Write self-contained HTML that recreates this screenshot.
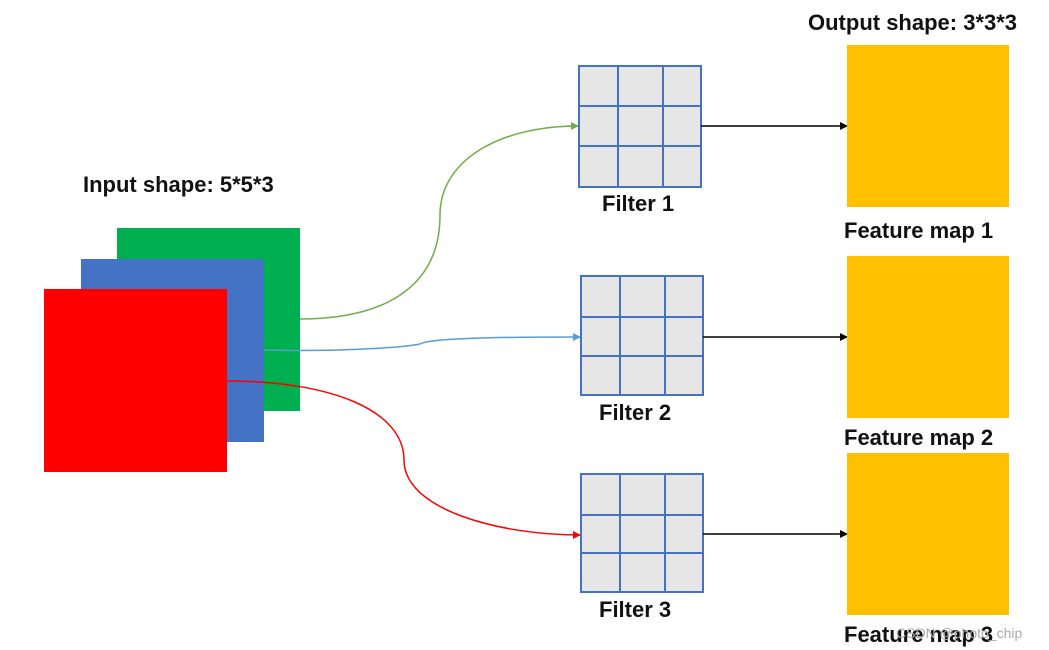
<!DOCTYPE html>
<html><head><style>body{margin:0;background:#fff}svg{display:block}text{font-family:"Liberation Sans",sans-serif;font-weight:bold;fill:#111}</style></head>
<body>
<svg width="1049" height="650" viewBox="0 0 1049 650">
<defs>
<marker id="ag" markerWidth="8" markerHeight="8" refX="7" refY="4" orient="auto" markerUnits="userSpaceOnUse"><path d="M0,0L8,4L0,8z" fill="#70ad47"/></marker>
<marker id="ab" markerWidth="8" markerHeight="8" refX="7" refY="4" orient="auto" markerUnits="userSpaceOnUse"><path d="M0,0L8,4L0,8z" fill="#5b9bd5"/></marker>
<marker id="ar" markerWidth="8" markerHeight="8" refX="7" refY="4" orient="auto" markerUnits="userSpaceOnUse"><path d="M0,0L8,4L0,8z" fill="#ff0000"/></marker>
<marker id="ak" markerWidth="8" markerHeight="8" refX="7" refY="4" orient="auto" markerUnits="userSpaceOnUse"><path d="M0,0L8,4L0,8z" fill="#000"/></marker>
</defs>
<text x="83" y="192" font-size="22">Input shape: 5*5*3</text>
<text x="808" y="30" font-size="22">Output shape: 3*3*3</text>
<rect x="117" y="228" width="183" height="183" fill="#00b050"/>
<rect x="81" y="259" width="183" height="183" fill="#4472c4"/>
<rect x="44" y="289" width="183" height="183" fill="#ff0000"/>
<path d="M300,319 C380,319 440,290 440,215 C440,160 500,126 578,126" fill="none" stroke="#70ad47" stroke-width="1.5" marker-end="url(#ag)"/>
<path d="M264,350 C330,352 400,348 420,344 C430,338 500,337 580,337" fill="none" stroke="#5b9bd5" stroke-width="1.5" marker-end="url(#ab)"/>
<path d="M227,381 C330,381 404,410 404,460 C404,510 500,535 580,535" fill="none" stroke="#ff0000" stroke-width="1.5" marker-end="url(#ar)"/>
<g fill="#e7e6e6" stroke="#4472c4" stroke-width="2">
<rect x="579" y="66" width="122" height="121"/><path d="M618,66V187M663,66V187M579,106H701M579,146H701"/>
<rect x="581" y="276" width="122" height="119"/><path d="M620,276V395M665,276V395M581,317H703M581,356H703"/>
<rect x="581" y="474" width="122" height="118"/><path d="M620,474V592M665,474V592M581,515H703M581,553H703"/>
</g>
<text x="602" y="211" font-size="22">Filter 1</text>
<text x="599" y="420" font-size="22">Filter 2</text>
<text x="599" y="617" font-size="22">Filter 3</text>
<g stroke="#000" stroke-width="1.5" marker-end="url(#ak)">
<line x1="701" y1="126" x2="847" y2="126"/>
<line x1="703" y1="337" x2="847" y2="337"/>
<line x1="703" y1="534" x2="847" y2="534"/>
</g>
<g fill="#ffc000">
<rect x="847" y="45" width="162" height="162"/>
<rect x="847" y="256" width="162" height="162"/>
<rect x="847" y="453" width="162" height="162"/>
</g>
<text x="844" y="238" font-size="22">Feature map 1</text>
<text x="844" y="445" font-size="22">Feature map 2</text>
<text x="844" y="642" font-size="22">Feature map 3</text>
<text x="896" y="638" font-size="14" style="font-weight:normal;fill:#aaa">CSDN @photo_chip</text>
</svg>
</body></html>
